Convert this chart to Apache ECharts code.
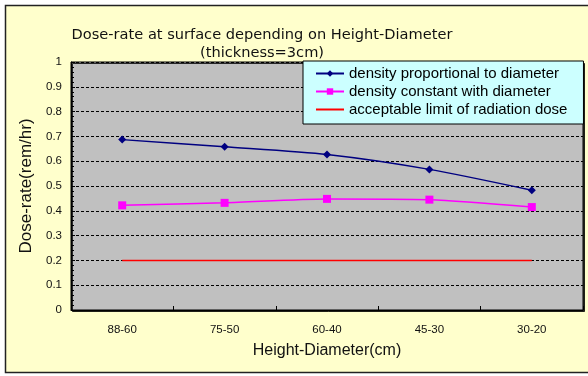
<!DOCTYPE html>
<html>
<head>
<meta charset="utf-8">
<script src="https://cdn.jsdelivr.net/npm/echarts@6/dist/echarts.min.js"></script>
<style>
  html, body { margin: 0; padding: 0; background: #ffffff; }
  #chart { width: 588px; height: 376px; }
</style>
</head>
<body>
<div id="chart"></div>
<script>
// Height-Diameter categories (cm)
const categories = ['88-60', '75-50', '60-40', '45-30', '30-20'];
// Dose-rate at surface (rem/hr)
const proportionalValues = [0.687, 0.658, 0.627, 0.567, 0.483];
const constantValues = [0.422, 0.432, 0.448, 0.445, 0.415];
const limitValues = [0.2, 0.2, 0.2, 0.2, 0.2];
const seriesNames = [
  'density proportional to diameter',
  'density constant with diameter',
  'acceptable limit of radiation dose'
];

const FONT = '"Liberation Sans", Arial, sans-serif';

const chart = echarts.init(document.getElementById('chart'), null, { renderer: 'canvas' });

chart.setOption({
  animation: false,
  backgroundColor: '#ffffff',
  graphic: [
    {
      type: 'rect',
      z: -10,
      shape: { x: 5.5, y: 5.5, width: 600, height: 367 },
      style: { fill: '#ffffcc', stroke: '#222222', lineWidth: 1.5 }
    }
  ],
  title: {
    text: 'Dose-rate at surface depending on Height-Diameter\n(thickness=3cm)',
    left: 257,
    top: 21,
    textAlign: 'center',
    textStyle: {
      fontFamily: '"DejaVu Sans", sans-serif',
      fontSize: 14.6,
      fontWeight: 'normal',
      color: '#111111',
      lineHeight: 18
    }
  },
  legend: {
    orient: 'vertical',
    left: 303,
    top: 61,
    padding: [5, 16, 7, 12],
    itemGap: 3,
    itemWidth: 28,
    itemHeight: 8,
    backgroundColor: '#ccffff',
    borderColor: '#000000',
    borderWidth: 1,
    textStyle: { fontFamily: FONT, fontSize: 15, lineHeight: 15, color: '#000000' },
    data: [
      { name: seriesNames[0] },
      { name: seriesNames[1] },
      { name: seriesNames[2], itemStyle: { opacity: 0 } }
    ]
  },
  grid: {
    left: 71,
    top: 62,
    width: 512,
    height: 248,
    show: true,
    backgroundColor: '#c0c0c0',
    borderColor: '#000000',
    borderWidth: 1,
    shadowColor: 'rgba(0,0,0,0.8)',
    shadowBlur: 0,
    shadowOffsetX: 1.5,
    shadowOffsetY: 1.5
  },
  xAxis: {
    type: 'category',
    data: categories,
    boundaryGap: true,
    name: 'Height-Diameter(cm)',
    nameLocation: 'middle',
    nameGap: 33,
    nameTextStyle: { fontFamily: FONT, fontSize: 16, color: '#111111' },
    axisLine: { lineStyle: { color: '#000000', width: 1 } },
    axisTick: { show: true, inside: true, length: 4, lineStyle: { color: '#000000' } },
    axisLabel: { fontFamily: FONT, fontSize: 11.5, color: '#111111', margin: 14 },
    splitLine: { show: false }
  },
  yAxis: {
    type: 'value',
    min: 0,
    max: 1,
    interval: 0.1,
    name: 'Dose-rate(rem/hr)',
    nameLocation: 'middle',
    nameGap: 34,
    nameTextStyle: { fontFamily: FONT, fontSize: 17, color: '#111111' },
    axisLine: { show: true, lineStyle: { color: '#000000', width: 1 } },
    axisTick: { show: true, inside: true, length: 4, lineStyle: { color: '#000000' } },
    minorTick: { show: true, splitNumber: 5, length: 3, lineStyle: { color: '#000000' } },
    axisLabel: {
      fontFamily: FONT, fontSize: 11.5, color: '#111111', margin: 9,
      formatter: v => String(Math.round(v * 10) / 10)
    },
    splitLine: { show: true, lineStyle: { color: '#000000', type: [3, 2], width: 1 } }
  },
  series: [
    {
      name: seriesNames[0],
      type: 'line',
      data: proportionalValues,
      smooth: 0.25,
      symbol: 'diamond',
      symbolSize: 8,
      lineStyle: { color: '#000080', width: 1.5 },
      itemStyle: { color: '#000080' },
      z: 4
    },
    {
      name: seriesNames[1],
      type: 'line',
      data: constantValues,
      smooth: 0.25,
      symbol: 'rect',
      symbolSize: 8,
      lineStyle: { color: '#ff00ff', width: 1.5 },
      itemStyle: { color: '#ff00ff' },
      z: 3
    },
    {
      name: seriesNames[2],
      type: 'line',
      data: limitValues,
      symbol: 'none',
      lineStyle: { color: '#ff0000', width: 1.5 },
      itemStyle: { color: '#ff0000' },
      z: 2
    }
  ]
});
</script>
</body>
</html>
